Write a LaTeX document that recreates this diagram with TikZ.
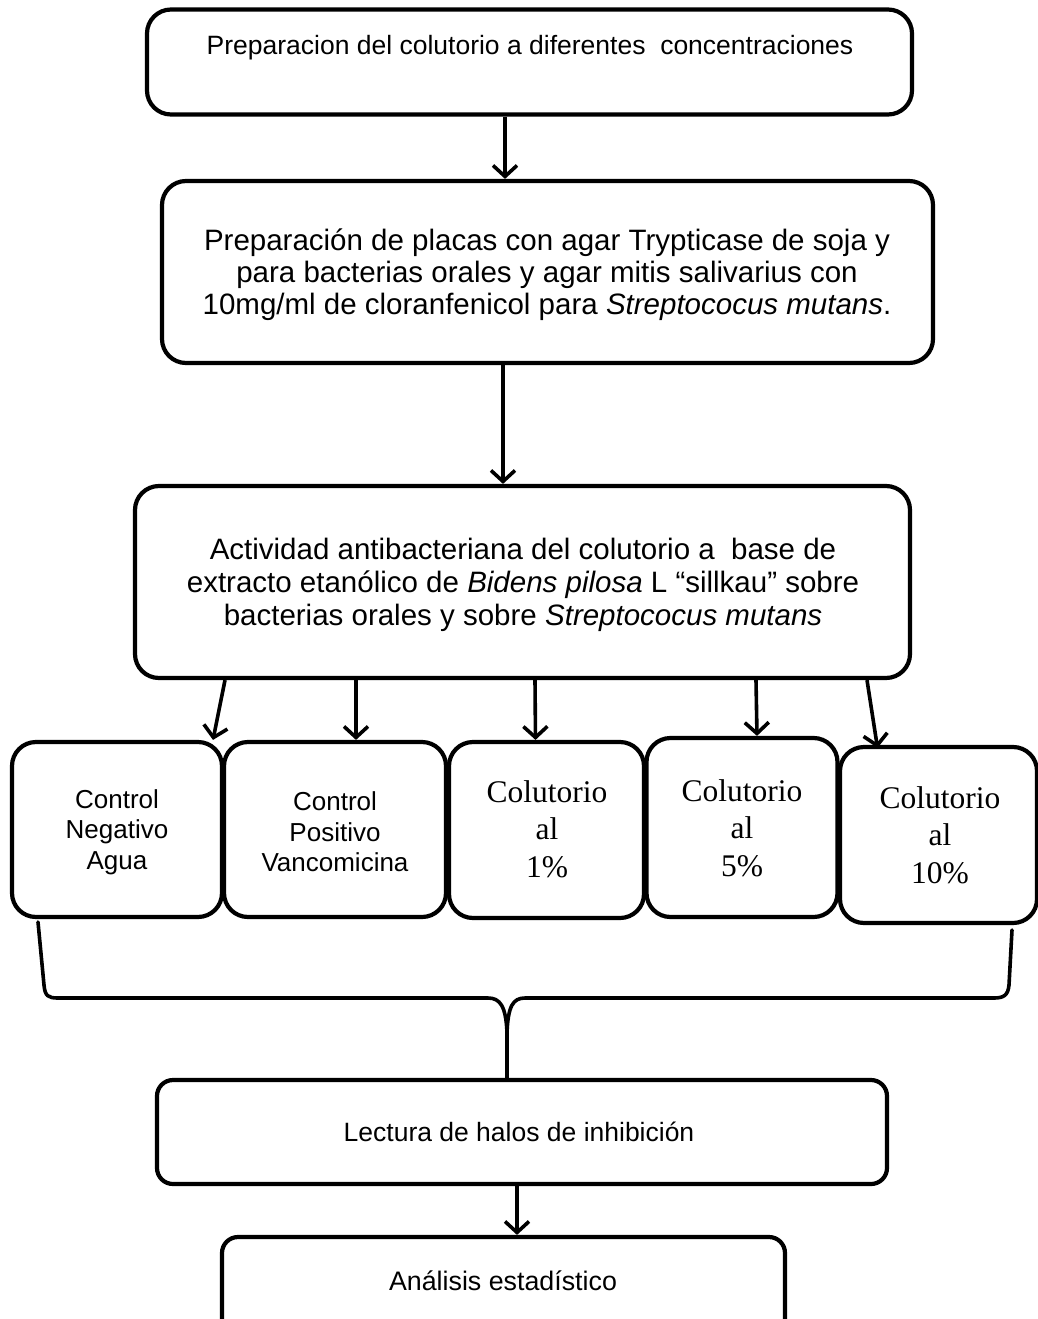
\documentclass[tikz,border=0pt]{standalone}
\usepackage{fontspec}
\setmainfont{Liberation Sans}
\newfontfamily\serifx{Liberation Serif}
\usetikzlibrary{arrows.meta}
\begin{document}
\begin{tikzpicture}[x=1pt,y=-1pt,
  box/.style={draw, line width=4.2pt, rounded corners=24pt, inner sep=0pt},
  lowbox/.style={draw, line width=4.2pt, rounded corners=16pt, inner sep=0pt},
  arr/.style={line width=3.6pt, -{Straight Barb[length=11pt,width=24pt]}},
  brace/.style={line width=3.6pt, line cap=round, line join=round},
  txt/.style={align=center, inner sep=0pt},
  sans/.style={txt, font=\fontsize{26}{30.5}\selectfont},
  serif/.style={txt, font=\serifx\fontsize{31.5}{37.5}\selectfont}]
\useasboundingbox (0,0) rectangle (1038,1319);

% main boxes
\node[box, minimum width=765pt, minimum height=105pt] (b1) at (529.5,62) {};
\node[txt, font=\fontsize{26.5}{32}\selectfont, anchor=base] (t1) at (530,55)
  {Preparacion del colutorio a diferentes\ \ concentraciones};

\node[box, minimum width=771pt, minimum height=182pt] (b2) at (547.5,272) {};
\node[txt, font=\fontsize{29.5}{32}\selectfont] (t2) at (547,275)
  {Preparación de placas con agar Trypticase de soja y\\
   para bacterias orales y agar mitis salivarius con\\
   10mg/ml de cloranfenicol para \textit{Streptococus mutans}.};

\node[box, minimum width=775pt, minimum height=192pt] (b3) at (522.5,582) {};
\node[txt, font=\fontsize{29.5}{33}\selectfont] (t3) at (523,585)
  {Actividad antibacteriana del colutorio a\ \ base de\\
   extracto etanólico de \textit{Bidens pilosa} L “sillkau” sobre\\
   bacterias orales y sobre \textit{Streptococus mutans}};

% five treatment boxes
\node[box, minimum width=210pt, minimum height=175pt] (c1) at (117,829.5) {};
\node[box, minimum width=222pt, minimum height=175pt] (c2) at (335,829.5) {};
\node[box, minimum width=195pt, minimum height=176pt] (c3) at (546.5,830) {};
\node[box, minimum width=191pt, minimum height=179pt] (c4) at (742,827.5) {};
\node[box, minimum width=197pt, minimum height=176pt] (c5) at (938.5,835) {};

\node[sans] (s1) at (117,832) {Control\\Negativo\\Agua};
\node[sans] (s2) at (335,832) {Control\\Positivo\\Vancomicina};
\node[serif] (s3) at (547,829) {Colutorio\\al\\1\%};
\node[serif] (s4) at (742,828) {Colutorio\\al\\5\%};
\node[serif] (s5) at (940,835) {Colutorio\\al\\10\%};

% lower boxes
\node[lowbox, minimum width=730pt, minimum height=104pt] (lec) at (522,1132) {};
\node[txt, font=\fontsize{26.5}{31}\selectfont] (tl) at (519,1132) {Lectura de halos de inhibición};

\node[lowbox, minimum width=563pt, minimum height=100pt] (an) at (503.5,1287) {};
\node[txt, font=\fontsize{26.8}{31}\selectfont] (ta) at (503,1281) {Análisis estadístico};

% arrows
\draw[arr] ([xshift=-24.5pt]b1.south) -- ([xshift=-42.5pt]b2.north);
\draw[arr] ([xshift=-44.5pt]b2.south) -- ([xshift=-19.5pt]b3.north);

\draw[arr] ([xshift=-297.5pt]b3.south) -- ([xshift=96pt]c1.north);
\draw[arr] ([xshift=-166.5pt]b3.south) -- ([xshift=21pt]c2.north);
\draw[arr] ([xshift=12.5pt]b3.south) -- ([xshift=-11pt]c3.north);
\draw[arr] ([xshift=233.5pt]b3.south) -- ([xshift=15pt]c4.north);
\draw[arr] ([xshift=344.5pt]b3.south) -- ([xshift=-61pt,yshift=-3pt]c5.north);

% brace joining the five boxes
\coordinate (bl) at (38,922);
\coordinate (br) at (1012,930);
\coordinate (bt) at (507,1033);
\draw[brace] (bl) -- (44,985) .. controls (45,996) and (48,998) .. (58,998)
  -- (488,998) .. controls (500,998) and (506,1006) .. (bt);
\draw[brace] (bt) .. controls (508,1006) and (513,998) .. (525,998)
  -- (994,998) .. controls (1004,998) and (1008,995) .. (1009,985) -- (br);
\draw[line width=3.6pt] (bt) -- (bt |- lec.north);

\draw[arr] ([xshift=-5pt]lec.south) -- ([xshift=13.5pt]an.north);
\end{tikzpicture}
\end{document}
